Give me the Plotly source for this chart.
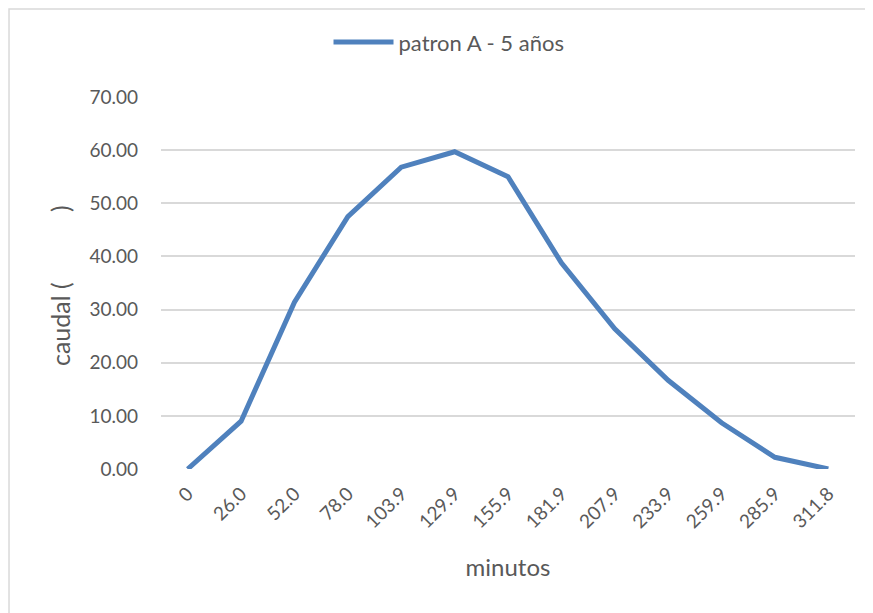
import plotly.graph_objects as go

minutos = ["0", "26.0", "52.0", "78.0", "103.9", "129.9", "155.9", "181.9",
           "207.9", "233.9", "259.9", "285.9", "311.8"]
caudal = [0.0, 9.0, 31.4, 47.5, 56.8, 59.7, 55.0, 38.8, 26.4, 16.7, 8.7, 2.2, 0.0]
y_ticks = [0, 10, 20, 30, 40, 50, 60, 70]
y_labels = ["0.00", "10.00", "20.00", "30.00", "40.00", "50.00", "60.00", "70.00"]

FONT = "Lato, sans-serif"
GREY = "#595959"

fig = go.Figure()
fig.add_trace(go.Scatter(
    x=minutos, y=caudal, mode="lines", name="patron A - 5 años",
    line=dict(color="#4F81BD", width=5),
))

fig.update_layout(
    width=873, height=613,
    margin=dict(l=153, r=26, t=89, b=152),
    paper_bgcolor="white", plot_bgcolor="white",
    font=dict(family=FONT, color=GREY, size=19),
    showlegend=True,
    legend=dict(orientation="h", x=0.415, xanchor="center", y=1.147, yanchor="middle",
                font=dict(size=22, color=GREY), itemwidth=60),
    xaxis=dict(
        type="category", range=[-0.5, 12.5],
        tickangle=-45, tickfont=dict(size=19, color=GREY),
        showgrid=False, showline=False, zeroline=False, ticks="",
        ticklabelstandoff=9,
        title=dict(text="minutos", font=dict(size=24, color=GREY), standoff=27),
    ),
    yaxis=dict(
        range=[0, 70], tickvals=y_ticks, ticktext=y_labels,
        tickfont=dict(size=19, color=GREY),
        showgrid=True, gridcolor="#D9D9D9", gridwidth=1.5,
        zeroline=False, showline=False, ticks="", ticklabelstandoff=22,
    ),
    shapes=[dict(type="rect", xref="paper", yref="paper",
                 x0=-0.219, x1=1.0159, y0=-0.42, y1=1.2366,
                 line=dict(color="#D9D9D9", width=1.5), layer="below")],
    annotations=[
        dict(text="caudal (           )", xref="paper", yref="paper",
             x=-0.1455, y=0.492, xanchor="center", yanchor="middle",
             textangle=-90, showarrow=False,
             font=dict(size=25, color=GREY)),
    ],
)

fig.write_html("out.html")
